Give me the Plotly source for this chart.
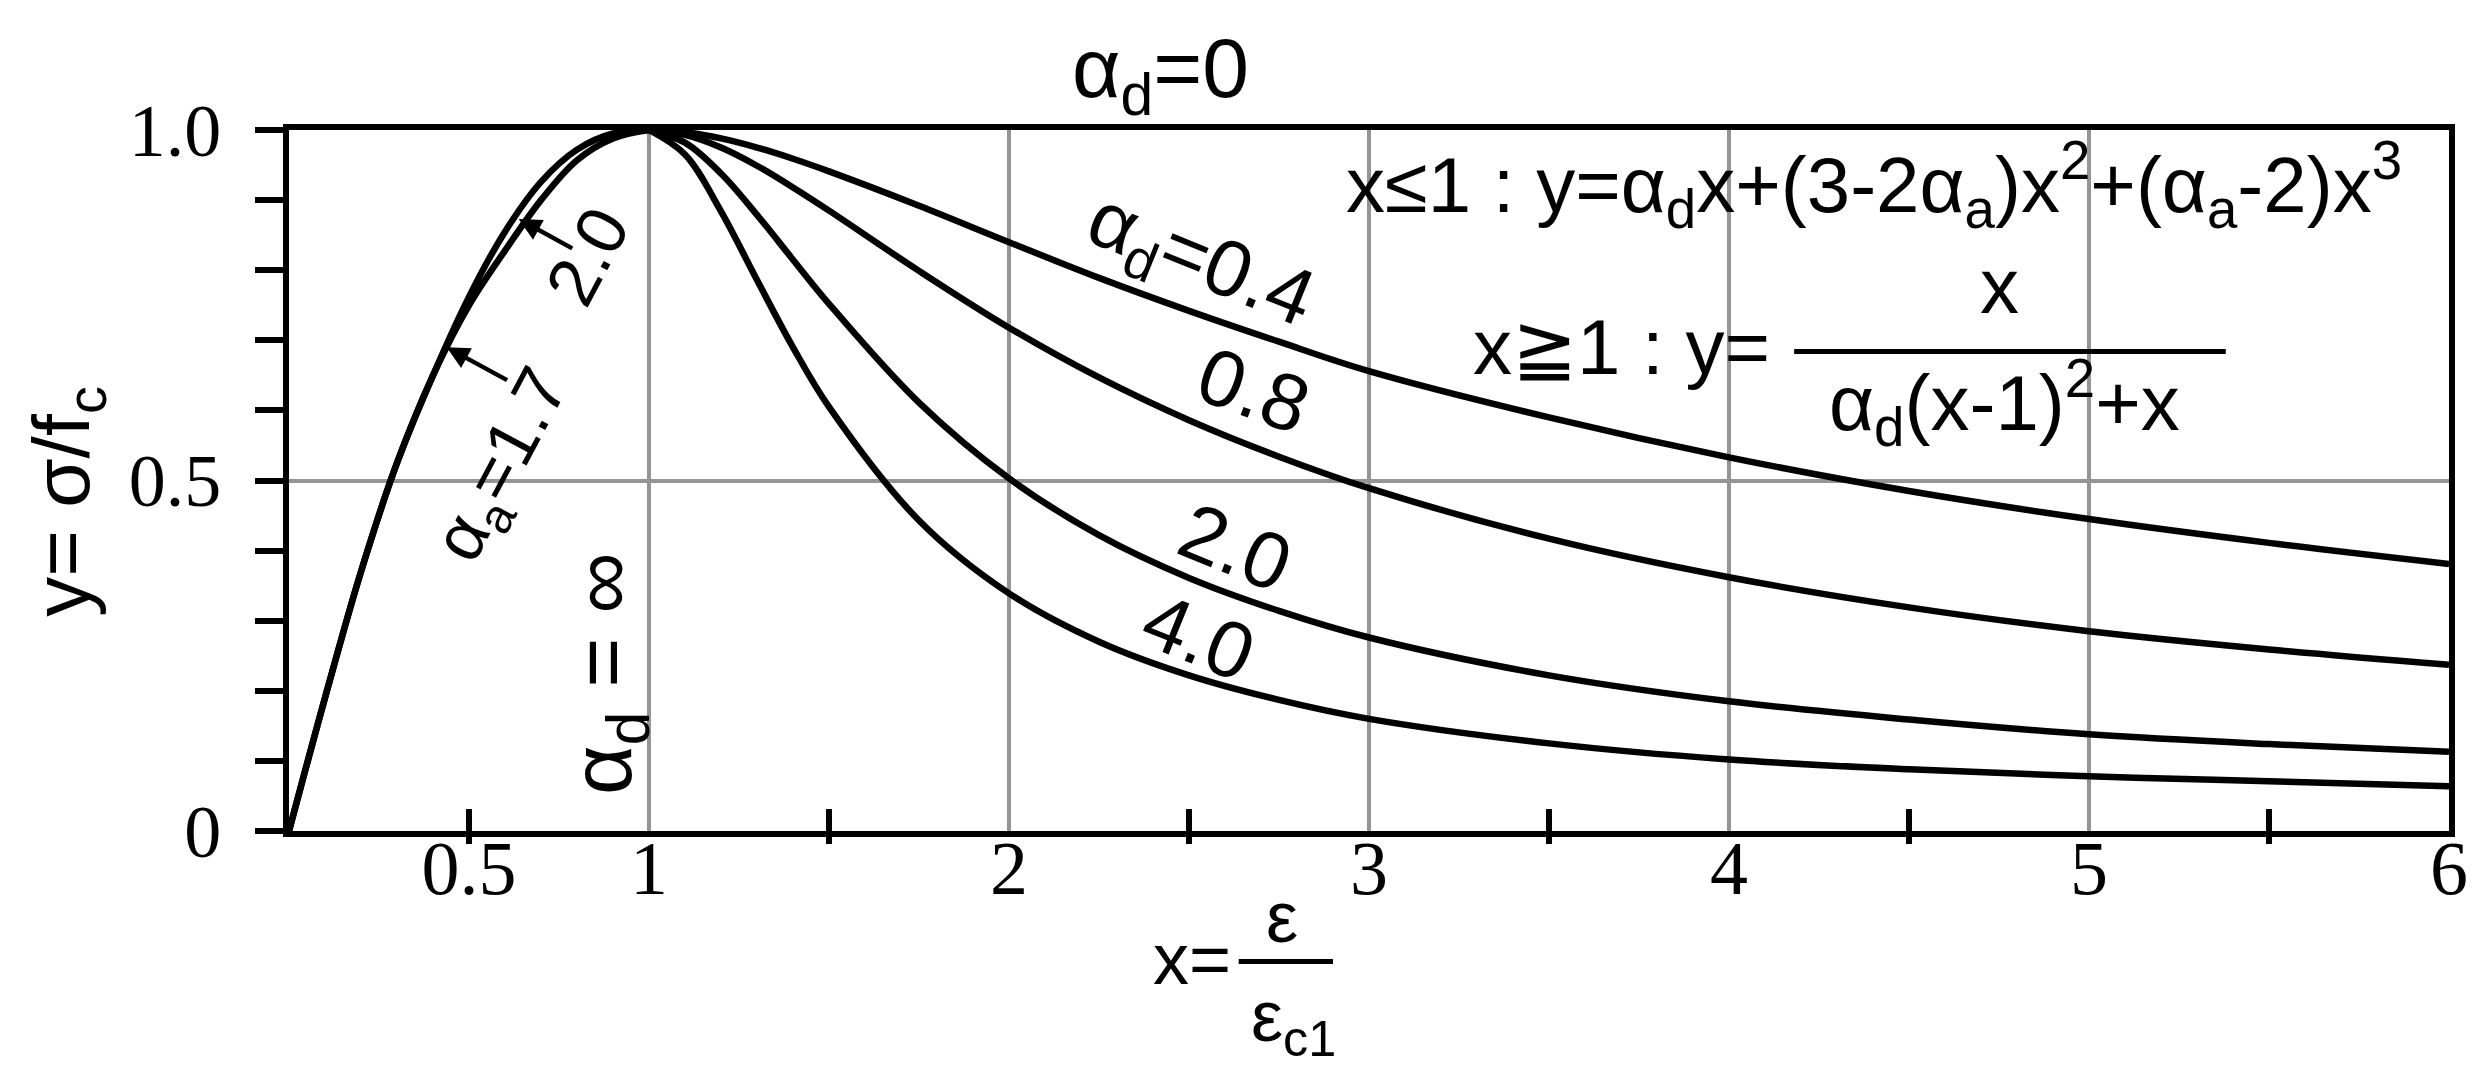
import plotly.graph_objects as go

# ascending branch (x <= 1)
x_asc = [0.0, 0.1, 0.2, 0.3, 0.4, 0.5, 0.6, 0.7, 0.8, 0.9, 1.0]
y_asc_a20 = [0.0, 0.19, 0.37, 0.525, 0.65, 0.762, 0.855, 0.926, 0.972, 0.995, 1.0]
y_asc_a17 = [0.0, 0.19, 0.37, 0.525, 0.65, 0.75, 0.828, 0.90, 0.957, 0.988, 1.0]

# descending branch (x >= 1), one list per alpha_d
x_desc = [1.0, 1.1, 1.2, 1.3, 1.4, 1.5, 1.75, 2.0, 2.25, 2.5, 2.75, 3.0, 3.5, 4.0, 4.5, 5.0, 5.5, 6.0]
y_ad04 = [1.0, 0.997, 0.988, 0.975, 0.959, 0.941, 0.892, 0.840, 0.789, 0.742, 0.698, 0.656, 0.590, 0.533, 0.485, 0.445, 0.411, 0.381]
y_ad08 = [1.0, 0.993, 0.975, 0.949, 0.918, 0.885, 0.799, 0.718, 0.647, 0.586, 0.534, 0.489, 0.417, 0.362, 0.319, 0.285, 0.259, 0.237]
y_ad20 = [1.0, 0.982, 0.938, 0.879, 0.815, 0.752, 0.611, 0.503, 0.422, 0.361, 0.314, 0.276, 0.222, 0.185, 0.159, 0.138, 0.124, 0.113]
y_ad40 = [1.0, 0.965, 0.884, 0.786, 0.690, 0.605, 0.443, 0.339, 0.270, 0.222, 0.187, 0.160, 0.125, 0.102, 0.088, 0.078, 0.071, 0.064]

# axes
x_label_vals = [0.5, 1, 2, 3, 4, 5, 6]
x_label_text = ['0.5', '1', '2', '3', '4', '5', '6']
x_grid_vals = [1, 2, 3, 4, 5]
x_tick_vals = [0.5, 1.5, 2.5, 3.5, 4.5, 5.5]
y_tick_vals = [0, 0.1, 0.2, 0.3, 0.4, 0.5, 0.6, 0.7, 0.8, 0.9, 1.0]
y_tick_text = ['0', '', '', '', '', '0.5', '', '', '', '', '1.0']
y_grid_vals = [0.5]

SANS = 'Liberation Sans, Arial, Helvetica, sans-serif'
SERIF = 'Liberation Serif, Times New Roman, serif'
GRID = '#959595'

fig = go.Figure()

for ys in (y_asc_a20, y_asc_a17):
    fig.add_trace(go.Scatter(x=x_asc, y=ys, mode='lines', line=dict(color='black', width=6.5, shape='spline'),
                             showlegend=False, hoverinfo='skip'))
for ys in (y_ad04, y_ad08, y_ad20, y_ad40):
    fig.add_trace(go.Scatter(x=x_desc, y=ys, mode='lines', line=dict(color='black', width=6.5, shape='spline'),
                             showlegend=False, hoverinfo='skip'))

# empty traces so the overlay tick axes get drawn
fig.add_trace(go.Scatter(x=[], y=[], xaxis='x2', showlegend=False, hoverinfo='skip'))
fig.add_trace(go.Scatter(x=[], y=[], xaxis='x3', showlegend=False, hoverinfo='skip'))


def label(text, x, y, size=80, angle=0, family=SANS, ref='x', xanchor='center'):
    # ref='paper' for texts that sit outside the axis ranges (plotly hides those otherwise)
    fig.add_annotation(x=x, y=y, xref=ref, yref='y' if ref == 'x' else 'paper', text=text, showarrow=False,
                       textangle=angle, xanchor=xanchor, yanchor='middle',
                       font=dict(family=family, size=size, color='black'))


# curve labels
label('α<sub>d</sub>=0', 2.42 / 6, 1.08, size=84, ref='paper')
label('α<sub>d</sub>=0.4', 2.53, 0.81, angle=22)
label('0.8', 2.68, 0.628, angle=20)
label('2.0', 2.63, 0.405, angle=22)
label('4.0', 2.525, 0.277, angle=22)
label('α<sub>d</sub> = ∞', 0.885, 0.225, size=86, angle=-90)
label('α<sub>a</sub>=1.7', 0.60, 0.52, size=70, angle=-62)
label('2.0', 0.83, 0.82, size=70, angle=-62)

# callout arrows
for tip, tail in (((0.438, 0.690), (0.61, 0.642)), ((0.638, 0.873), (0.791, 0.830))):
    fig.add_annotation(x=tip[0], y=tip[1], ax=tail[0], ay=tail[1], xref='x', yref='y', axref='x', ayref='y',
                       text='', showarrow=True, arrowhead=2, arrowsize=1, arrowwidth=4.5, arrowcolor='black')

# formula, first line
label('x≤1 : y=α<sub>d</sub>x+(3-2α<sub>a</sub>)x<sup>2</sup>+(α<sub>a</sub>-2)x<sup>3</sup>', 2.93, 0.922,
      size=78, xanchor='left')
# formula, second line (written as a fraction)
label('x≧1 : y=', 4.12, 0.69, size=78, xanchor='right')
label('x', 4.75, 0.778, size=78)
label('α<sub>d</sub>(x-1)<sup>2</sup>+x', 4.766, 0.611, size=78)
fig.add_shape(type='line', xref='x', yref='y', x0=4.181, x1=5.38, y0=0.684, y1=0.684,
              line=dict(color='black', width=5))

# axis titles
label('y= σ/f<sub>c</sub>', -0.616 / 6, 0.47, size=80, angle=-90, ref='paper')
label('x=', 2.507 / 6, -0.182, size=72, ref='paper')
label('ε', 2.758 / 6, -0.122, size=72, ref='paper')
label('ε<sub>c1</sub>', 2.79 / 6, -0.272, size=72, ref='paper')
fig.add_shape(type='line', xref='paper', yref='paper', x0=2.638 / 6, x1=2.90 / 6, y0=-0.186, y1=-0.186,
              line=dict(color='black', width=5))

fig.update_layout(
    width=2485, height=1072,
    margin=dict(l=281, r=44, t=122, b=249),
    paper_bgcolor='white', plot_bgcolor='white',
    xaxis=dict(range=[0, 6], tickmode='array', tickvals=x_label_vals, ticktext=x_label_text, ticks='',
               showgrid=False, zeroline=False, showline=True, linecolor='black', linewidth=6, mirror=True,
               tickfont=dict(family=SERIF, size=76, color='black'), ticklabelstandoff=-34,
               minor=dict(tickmode='array', tickvals=x_grid_vals, showgrid=True, gridcolor=GRID, gridwidth=3.5,
                          ticks='')),
    xaxis2=dict(range=[0, 6], overlaying='x', anchor='y', side='bottom', tickmode='array', tickvals=x_tick_vals,
                ticks='inside', ticklen=22, tickwidth=6, tickcolor='black', showticklabels=False,
                showgrid=False, zeroline=False, showline=False),
    xaxis3=dict(range=[0, 6], overlaying='x', anchor='y', side='bottom', tickmode='array', tickvals=x_tick_vals,
                ticks='outside', ticklen=12, tickwidth=6, tickcolor='black', showticklabels=False,
                showgrid=False, zeroline=False, showline=False),
    yaxis=dict(range=[0, 1], tickmode='array', tickvals=y_tick_vals, ticktext=y_tick_text, ticks='outside',
               ticklen=28, tickwidth=6, tickcolor='black', showgrid=False, zeroline=False, showline=True,
               linecolor='black', linewidth=6, mirror=True, ticklabelstandoff=19,
               tickfont=dict(family=SERIF, size=74, color='black'),
               minor=dict(tickmode='array', tickvals=y_grid_vals, showgrid=True, gridcolor=GRID, gridwidth=3.5,
                          ticks='')),
)

fig.write_html('out.html')
